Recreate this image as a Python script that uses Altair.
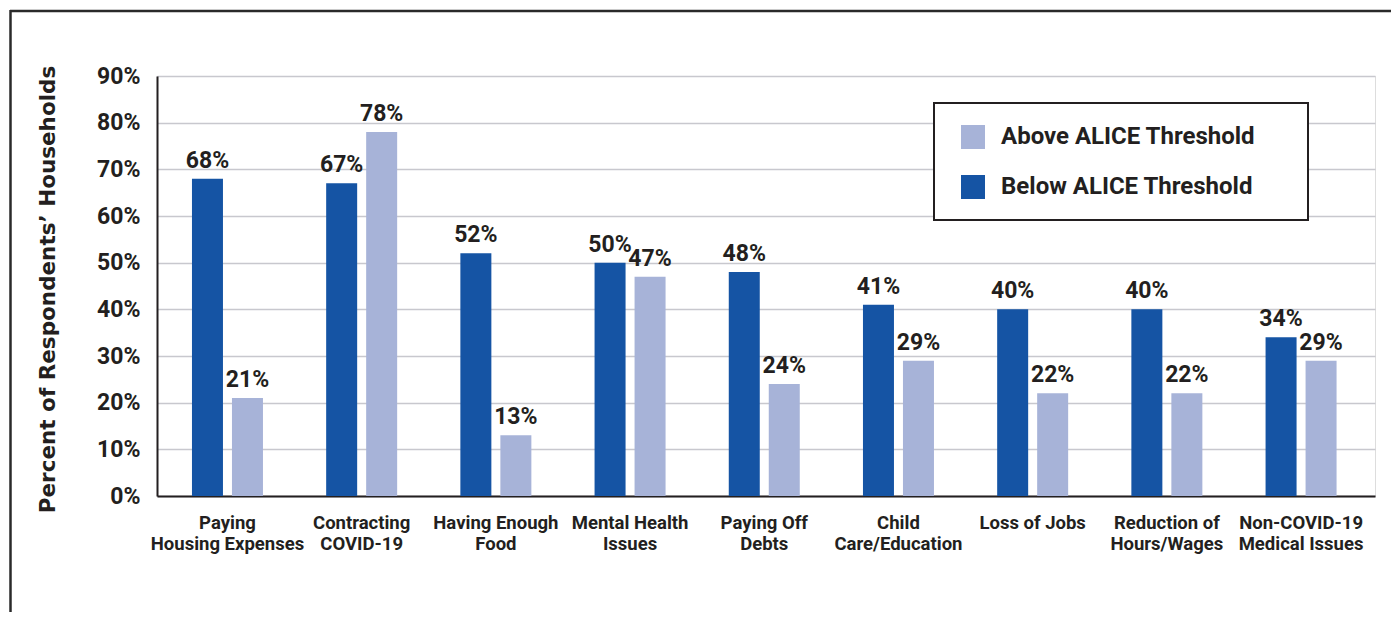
import altair as alt
import pandas as pd

categories = [
    "Paying|Housing Expenses",
    "Contracting|COVID-19",
    "Having Enough|Food",
    "Mental Health|Issues",
    "Paying Off|Debts",
    "Child|Care/Education",
    "Loss of Jobs",
    "Reduction of|Hours/Wages",
    "Non-COVID-19|Medical Issues",
]
below_values = [68, 67, 52, 50, 48, 41, 40, 40, 34]
above_values = [21, 78, 13, 47, 24, 29, 22, 22, 29]
series = ["Below ALICE Threshold", "Above ALICE Threshold"]
legend_order = ["Above ALICE Threshold", "Below ALICE Threshold"]
colors = ["#A7B3D8", "#1554A4"]

rows = []
for c, b, a in zip(categories, below_values, above_values):
    rows.append({"cat": c, "series": series[0], "value": b})
    rows.append({"cat": c, "series": series[1], "value": a})
df = pd.DataFrame(rows)

FONT = "Roboto"
TXT = "#231F20"

x_enc = alt.X(
    "cat:N",
    sort=categories,
    scale=alt.Scale(paddingInner=0, paddingOuter=0.038, align=0.33),
    axis=alt.Axis(
        title=None,
        labelAngle=0,
        labelExpr="split(datum.label, '|')",
        labelFont=FONT,
        labelFontWeight="bold",
        labelFontSize=18.5,
        labelColor=TXT,
        labelLineHeight=21,
        labelPadding=17,
        labelBaseline="top",
        ticks=False,
        domainColor="#231F20",
        domainWidth=2,
        grid=False,
    ),
)
xoff_enc = alt.XOffset(
    "series:N",
    sort=series,
    scale=alt.Scale(paddingInner=0.225, paddingOuter=0.79),
)
y_enc = alt.Y(
    "value:Q",
    scale=alt.Scale(domain=[0, 90], nice=False),
    axis=alt.Axis(
        title="Percent of Respondents’ Households",
        titleFont="DejaVu Sans",
        titleFontWeight="bold",
        titleFontSize=21.5,
        titleColor=TXT,
        titleAngle=-90,
        titleX=-108.5,
        titleY=213,
        titleAlign="center",
        titleBaseline="middle",
        values=[0, 10, 20, 30, 40, 50, 60, 70, 80, 90],
        labelExpr="datum.value + '%'",
        labelFont=FONT,
        labelFontWeight="bold",
        labelFontSize=23,
        labelColor=TXT,
        labelPadding=17,
        ticks=False,
        domainColor="#231F20",
        domainWidth=2,
        gridColor="#C8C8CE",
        gridWidth=1.5,
    ),
)

base = alt.Chart(df)

bars = base.mark_bar().encode(
    x=x_enc,
    xOffset=xoff_enc,
    y=y_enc,
    color=alt.Color(
        "series:N",
        scale=alt.Scale(domain=legend_order, range=colors),
        legend=alt.Legend(
            title=None,
            orient="none",
            legendX=804,
            legendY=49,
            padding=0,
            symbolType="square",
            symbolSize=576,
            symbolStrokeWidth=0,
            symbolOpacity=1,
            labelFont=FONT,
            labelFontWeight="bold",
            labelFontSize=24,
            labelColor=TXT,
            labelOffset=16,
            rowPadding=26,
            labelLimit=400,
        ),
    ),
)

labels = base.mark_text(
    baseline="bottom", dy=-6, font=FONT, fontWeight="bold", fontSize=23, color=TXT
).encode(
    x=x_enc,
    xOffset=xoff_enc,
    y=y_enc,
    text=alt.Text("label:N"),
).transform_calculate(label="datum.value + '%'")

one = alt.Data(values=[{}])

legend_box = alt.Chart(one).mark_rect(
    fill="white", stroke="#231F20", strokeWidth=2
).encode(
    x=alt.value(777), x2=alt.value(1151), y=alt.value(27), y2=alt.value(144)
)

frame_top = alt.Chart(one).mark_rule(color="#2a2a2a", strokeWidth=2.5).encode(
    x=alt.value(-147), x2=alt.value(1242), y=alt.value(-65)
)
frame_left = alt.Chart(one).mark_rule(color="#2a2a2a", strokeWidth=2.5).encode(
    x=alt.value(-146.5), y=alt.value(-66), y2=alt.value(560)
)

chart = (
    alt.layer(legend_box, bars, labels, frame_top, frame_left)
    .properties(
        width=1218,
        height=420,
        autosize=alt.AutoSizeParams(type="none"),
        padding={"left": 149, "top": 68, "right": 16, "bottom": 116},
    )
    .configure_view(stroke=None)
    .configure(background="white")
)

chart.save("out.html", embed_options={"renderer": "svg", "actions": False})
